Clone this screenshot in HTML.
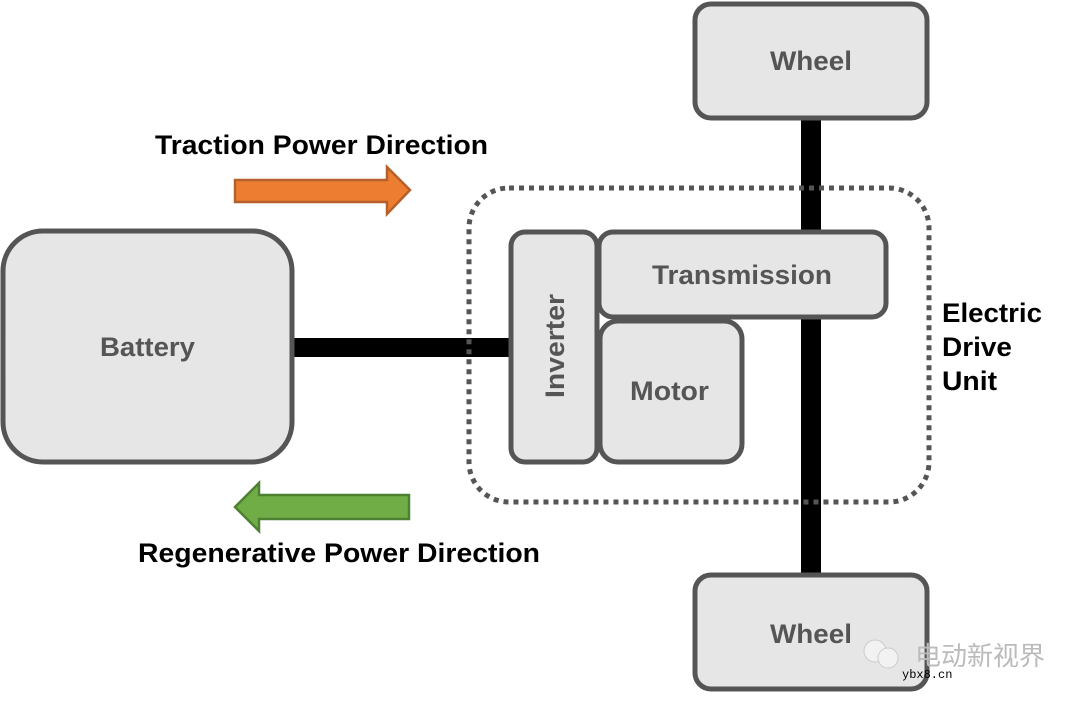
<!DOCTYPE html>
<html><head><meta charset="utf-8"><style>
html,body{margin:0;padding:0;background:#fff;width:1080px;height:704px;overflow:hidden}
svg{display:block}
text{font-family:"Liberation Sans",Arial,sans-serif;font-weight:bold}
</style></head><body>
<svg width="1080" height="704" viewBox="0 0 1080 704" xmlns="http://www.w3.org/2000/svg">
<rect x="801" y="110" width="20" height="470" fill="#000"/>
<rect x="290" y="338" width="225" height="19" fill="#000"/>
<rect x="469" y="188" width="460" height="314" rx="40" fill="none" stroke="#555" stroke-width="5" stroke-dasharray="5 5"/>
<rect x="695" y="4" width="232" height="114" rx="16" fill="#e6e6e6" stroke="#555" stroke-width="5"/>
<text x="770" y="70" font-size="27" fill="#555" textLength="82" lengthAdjust="spacingAndGlyphs">Wheel</text>
<rect x="695" y="575" width="232" height="114" rx="16" fill="#e6e6e6" stroke="#555" stroke-width="5"/>
<text x="770" y="643" font-size="27" fill="#555" textLength="82" lengthAdjust="spacingAndGlyphs">Wheel</text>
<rect x="3" y="231" width="289" height="231" rx="40" fill="#e6e6e6" stroke="#555" stroke-width="5"/>
<text x="100" y="356" font-size="27" fill="#555" textLength="95" lengthAdjust="spacingAndGlyphs">Battery</text>
<rect x="511" y="232" width="86" height="230" rx="14" fill="#e6e6e6" stroke="#555" stroke-width="5"/>
<text transform="translate(564,398) rotate(-90)" font-size="27" fill="#555" textLength="104" lengthAdjust="spacingAndGlyphs">Inverter</text>
<rect x="599" y="232" width="287" height="85" rx="14" fill="#e6e6e6" stroke="#555" stroke-width="5"/>
<text x="652" y="284" font-size="27" fill="#555" textLength="180" lengthAdjust="spacingAndGlyphs">Transmission</text>
<rect x="600" y="321" width="142" height="141" rx="18" fill="#e6e6e6" stroke="#555" stroke-width="5"/>
<text x="630" y="400" font-size="27" fill="#555" textLength="79" lengthAdjust="spacingAndGlyphs">Motor</text>
<text x="155" y="154" font-size="27" fill="#000" textLength="333" lengthAdjust="spacingAndGlyphs">Traction Power Direction</text>
<text x="138" y="562" font-size="27" fill="#000" textLength="402" lengthAdjust="spacingAndGlyphs">Regenerative Power Direction</text>
<text x="942" y="322" font-size="27" fill="#000" textLength="100" lengthAdjust="spacingAndGlyphs">Electric</text>
<text x="942" y="356" font-size="27" fill="#000" textLength="70" lengthAdjust="spacingAndGlyphs">Drive</text>
<text x="942" y="390" font-size="27" fill="#000" textLength="55" lengthAdjust="spacingAndGlyphs">Unit</text>
<polygon points="235,180 387,180 387,167 410,190 387,214 387,202 235,202" fill="#ed7d31" stroke="#b5602a" stroke-width="2.5"/>
<polygon points="409,495 259,495 259,483 235,507 259,531 259,519 409,519" fill="#70ad47" stroke="#4e8032" stroke-width="2.5"/>
<circle cx="875" cy="651" r="11" fill="#f2f2f2" stroke="#ccc"/>
<circle cx="888" cy="658" r="10" fill="#f2f2f2" stroke="#ccc"/>
<text x="915" y="665" font-size="26" fill="#bbb" style="font-family:'Liberation Sans','Noto Sans CJK SC',sans-serif;font-weight:normal">电动新视界</text>
<text x="902" y="678" font-size="12" fill="#000" style="font-family:'Liberation Mono',monospace;font-weight:normal">ybx8.cn</text>
</svg>
</body></html>
